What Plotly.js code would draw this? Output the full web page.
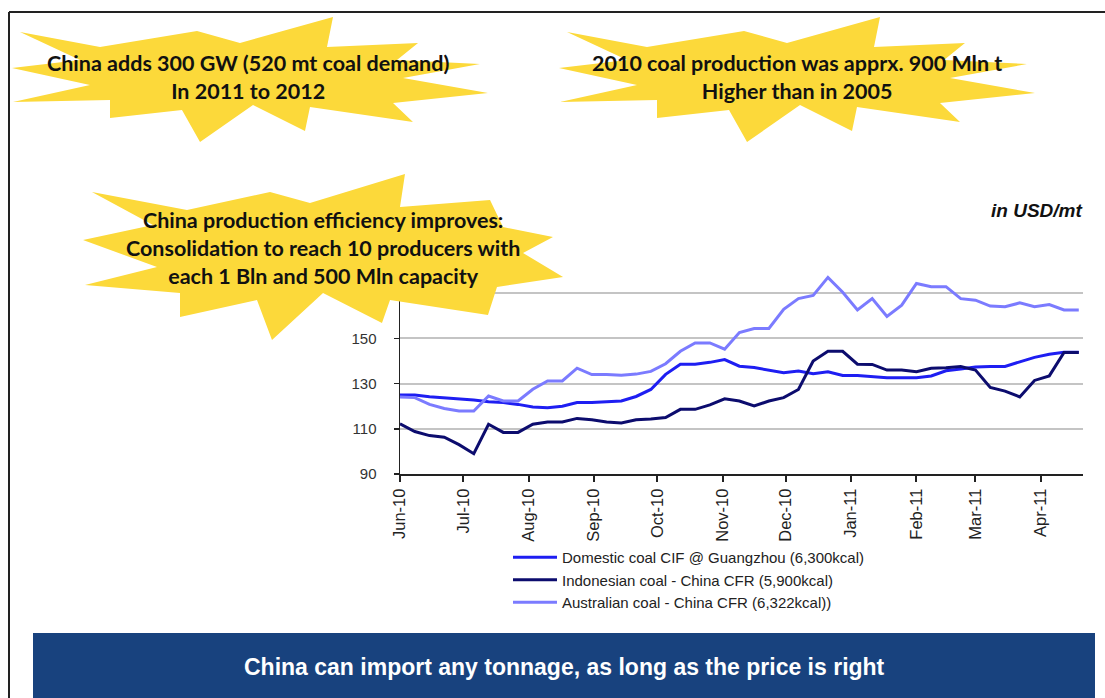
<!DOCTYPE html>
<html>
<head>
<meta charset="utf-8">
<script src="https://cdn.plot.ly/plotly-3.0.1.min.js"></script>
<style>
html,body{margin:0;padding:0;background:#fff;}
#chart{width:1105px;height:698px;}
</style>
</head>
<body>
<div id="chart"></div>
<script>
// ---- data ----
var weeks = ['2010-06-01','2010-06-08','2010-06-15','2010-06-22','2010-06-29','2010-07-06','2010-07-13','2010-07-20','2010-07-27','2010-08-03','2010-08-10','2010-08-17','2010-08-24','2010-08-31','2010-09-07','2010-09-14','2010-09-21','2010-09-28','2010-10-05','2010-10-12','2010-10-19','2010-10-26','2010-11-02','2010-11-09','2010-11-16','2010-11-23','2010-11-30','2010-12-07','2010-12-14','2010-12-21','2010-12-28','2011-01-04','2011-01-11','2011-01-18','2011-01-25','2011-02-01','2011-02-08','2011-02-15','2011-02-22','2011-03-01','2011-03-08','2011-03-15','2011-03-22','2011-03-29','2011-04-05','2011-04-12','2011-04-19'];
var domestic = [125,125,124.2,123.8,123.3,122.7,122,121.6,120.8,119.6,119.3,120,121.6,121.6,122,122.3,124.3,127.4,134.1,138.6,138.6,139.4,140.6,137.7,137.1,135.9,134.8,135.6,134.4,135.2,133.6,133.6,133,132.6,132.6,132.6,133.4,135.7,136.5,137.3,137.6,137.6,139.6,141.6,143,143.9,143.9];
var indonesian = [112.2,108.8,107,106.3,103,99,112,108.4,108.4,112,113,113,114.6,114,113,112.6,114,114.3,115,118.6,118.6,120.6,123.3,122.3,120.1,122.3,123.8,127.4,140,144.3,144.3,138.6,138.5,136,136,135.3,136.8,137,137.6,136,128.3,126.7,124.1,131.4,133.4,143.8,143.8];
var australian = [124.1,123.8,120.8,119,117.9,117.9,124.5,122.3,122.3,127.5,131.2,131.2,136.8,134,134,133.7,134.2,135.4,138.8,144.3,148,148,145.2,152.6,154.4,154.4,162.9,167.6,169,177,170.4,162.6,167.6,159.7,164.7,174.3,172.9,172.9,167.6,166.9,164.3,164,165.7,164,165,162.6,162.6];
var seriesNames = ['Domestic coal CIF @ Guangzhou (6,300kcal)','Indonesian coal - China CFR (5,900kcal)','Australian coal - China CFR (6,322kcal))'];
var monthTicks = ['2010-06-01','2010-07-01','2010-08-01','2010-09-01','2010-10-01','2010-11-01','2010-12-01','2011-01-01','2011-02-01','2011-03-01','2011-04-01'];
var monthLabels = ['Jun-10','Jul-10','Aug-10','Sep-10','Oct-10','Nov-10','Dec-10','Jan-11','Feb-11','Mar-11','Apr-11'];
var yTicks = [90,110,130,150,170,190];
var yLabels = ['90','110','130','150','',''];
var starTexts = [
  'China adds 300 GW (520 mt coal demand)<br>In 2011 to 2012',
  '2010 coal production was apprx. 900 Mln t<br>Higher than in 2005',
  'China production efficiency improves:<br>Consolidation to reach 10 producers with<br>each 1 Bln and 500 Mln capacity'
];
var unitText = 'in USD/mt';
var bannerText = 'China can import any tonnage, as long as the price is right';

// ---- geometry helpers (page pixels -> paper) ----
var W = 1105, H = 698;
var M = {l:400, r:22, t:248, b:224};
var PW = W - M.l - M.r, PH = H - M.t - M.b;
function px(x){ return (x - M.l) / PW; }
function py(y){ return (H - M.b - y) / PH; }
function pathFrom(pts, dx, dy){
  return pts.map(function(p,i){ return (i?'L':'M') + px(p[0]+dx).toFixed(4) + ',' + py(p[1]+dy).toFixed(4); }).join(' ') + ' Z';
}
var starA = [[20,32],[100,47],[197,31],[240,43],[333,17],[327,47],[418,43],[397,60],[480,64],[403,78],[488,93],[393,103],[413,122],[310,107],[305,131],[253,105],[200,142],[182,110],[110,118],[110,100],[13,102],[90,85],[12,68],[80,60]];
var starB = [[92,192],[187,210],[270,192],[310,203],[405,174],[400,207],[490,200],[503,227],[553,237],[523,253],[563,277],[497,287],[488,315],[390,300],[382,323],[323,293],[272,340],[257,300],[180,317],[180,293],[85,285],[157,267],[83,240],[153,225]];
var yellow = '#fcd93a';

var shapes = [
  {type:'path', xref:'paper', yref:'paper', layer:'above', path:pathFrom(starA,0,0), fillcolor:yellow, line:{width:0}},
  {type:'path', xref:'paper', yref:'paper', layer:'above', path:pathFrom(starA,547,0), fillcolor:yellow, line:{width:0}},
  {type:'path', xref:'paper', yref:'paper', layer:'above', path:pathFrom(starB,0,0), fillcolor:yellow, line:{width:0}},
  {type:'rect', xref:'paper', yref:'paper', layer:'above', x0:px(33), x1:px(1095), y0:py(633), y1:py(700), fillcolor:'#18427e', line:{width:0}},
  {type:'line', xref:'paper', yref:'paper', layer:'above', x0:px(9), x1:px(1105), y0:py(12), y1:py(12), line:{color:'#222', width:2}},
  {type:'line', xref:'paper', yref:'paper', layer:'above', x0:px(9), x1:px(9), y0:py(12), y1:py(700), line:{color:'#222', width:2}}
];

var annFont = {family:'Lato, "Open Sans", sans-serif', size:21.5, color:'#111', weight:700};
var annotations = [
  {xref:'paper', yref:'paper', x:px(248), y:py(77), text:'<b>'+starTexts[0]+'</b>', showarrow:false, font:annFont, align:'center', xanchor:'center', yanchor:'middle'},
  {xref:'paper', yref:'paper', x:px(797), y:py(77), text:'<b>'+starTexts[1]+'</b>', showarrow:false, font:annFont, align:'center', xanchor:'center', yanchor:'middle'},
  {xref:'paper', yref:'paper', x:px(323), y:py(248), text:'<b>'+starTexts[2]+'</b>', showarrow:false, font:annFont, align:'center', xanchor:'center', yanchor:'middle'},
  {xref:'paper', yref:'paper', x:px(1084), y:py(210), text:'<b><i>'+unitText+'</i></b>', showarrow:false, xanchor:'right', yanchor:'middle', font:{family:'"Liberation Sans", Arial, sans-serif', size:19, color:'#111'}},
  {xref:'paper', yref:'paper', x:px(564), y:py(667), text:'<b>'+bannerText+'</b>', showarrow:false, xanchor:'center', yanchor:'middle', font:{family:'"Liberation Sans", Arial, sans-serif', size:23, color:'#ffffff'}}
];

var colors = ['#1e1ef2','#0c0c6e','#7b7bff'];
var values = [domestic, indonesian, australian];
var traces = values.map(function(v,i){
  return {x:weeks, y:v, type:'scatter', mode:'lines', name:seriesNames[i], legendgroup:'g'+i,
          line:{color:colors[i], width:3}, hoverinfo:'x+y'};
});

var layout = {
  width:W, height:H,
  margin:M,
  paper_bgcolor:'#ffffff', plot_bgcolor:'#ffffff',
  showlegend:true,
  legend:{x:px(508), y:py(541), xanchor:'left', yanchor:'top', bgcolor:'rgba(0,0,0,0)', tracegroupgap:0, itemwidth:44,
          font:{family:'"Liberation Sans", Arial, sans-serif', size:15, color:'#222'}},
  xaxis:{type:'date', range:['2010-06-01','2011-04-21'], tickvals:monthTicks, ticktext:monthLabels, tickangle:-90,
         showgrid:false, zeroline:false, showline:true, linecolor:'#222', linewidth:2,
         ticks:'outside', ticklen:6, tickwidth:2, tickcolor:'#222',
         tickfont:{family:'"Liberation Sans", Arial, sans-serif', size:16.5, color:'#222'}},
  yaxis:{range:[90,190], tickvals:yTicks, ticktext:yLabels, showgrid:true, gridcolor:'#c4c4c4', gridwidth:2,
         zeroline:false, showline:true, linecolor:'#222', linewidth:1.5,
         ticks:'outside', ticklen:5, tickwidth:1.5, tickcolor:'#222', ticklabelstandoff:14,
         tickfont:{family:'"Liberation Sans", Arial, sans-serif', size:15, color:'#333'}},
  shapes:shapes,
  annotations:annotations
};

Plotly.newPlot('chart', traces, layout, {displayModeBar:false, staticPlot:true});
</script>
</body>
</html>
